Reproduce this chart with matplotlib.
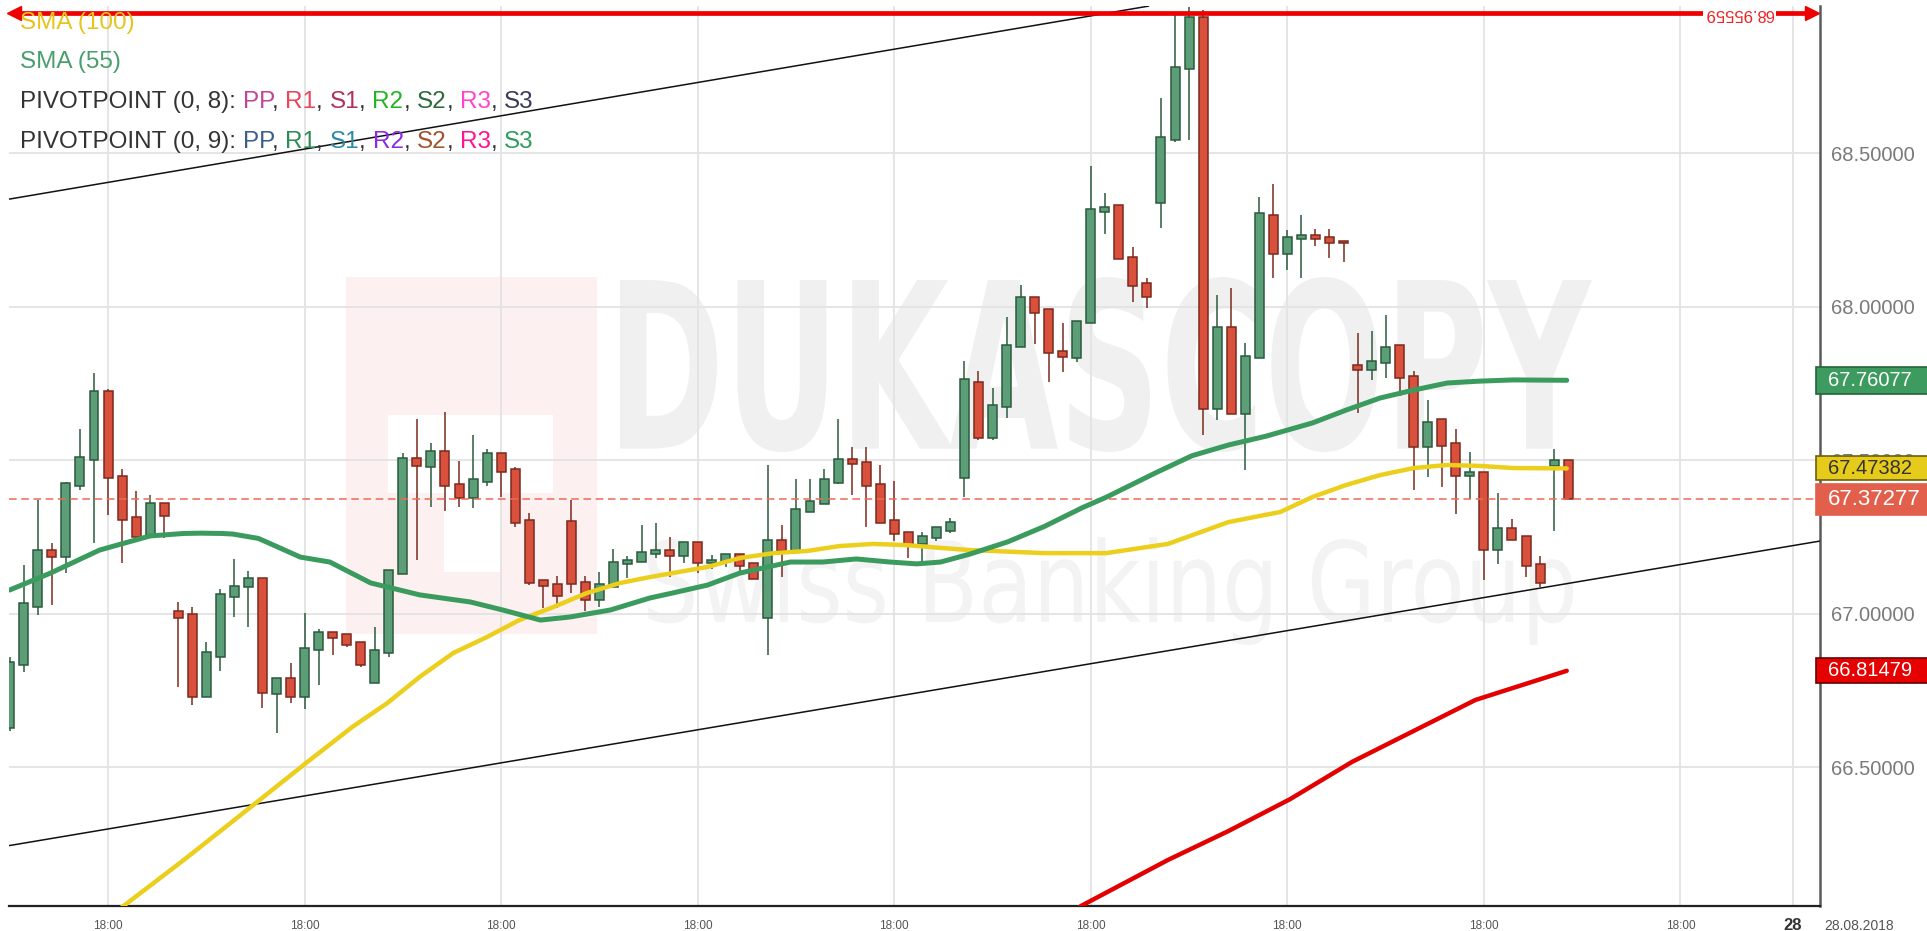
import numpy as np
import matplotlib.pyplot as plt
from matplotlib.transforms import Affine2D, blended_transform_factory
from matplotlib.textpath import TextPath
from matplotlib.patches import PathPatch, Rectangle
from matplotlib.font_manager import FontProperties

FONT = 'Liberation Sans'
plt.rcParams['font.family'] = [FONT, 'DejaVu Sans']

# candles (OHLC), one per bar
opens = [66.630, 66.834, 67.024, 67.208, 67.187, 67.415, 67.501, 67.726, 67.450, 67.314,
         67.257, 67.360, 67.008, 67.000, 66.731, 66.861, 67.056, 67.089, 67.118, 66.738,
         66.790, 66.731, 66.881, 66.940, 66.934, 66.908, 66.776, 66.874, 67.130, 67.509,
         67.480, 67.529, 67.423, 67.377, 67.429, 67.523, 67.471, 67.306, 67.111, 67.098,
         67.301, 67.103, 67.046, 67.089, 67.163, 67.168, 67.195, 67.208, 67.190, 67.235,
         67.167, 67.168, 67.196, 67.165, 66.986, 67.241, 67.206, 67.331, 67.357, 67.427,
         67.503, 67.496, 67.423, 67.306, 67.268, 67.228, 67.246, 67.271, 67.442, 67.756,
         67.572, 67.673, 67.868, 68.033, 67.993, 67.856, 67.834, 67.946, 68.310, 68.332,
         68.163, 68.079, 68.337, 68.543, 68.773, 68.945, 67.666, 67.933, 67.651, 67.834,
         68.299, 68.172, 68.220, 68.234, 68.226, 68.214, 67.810, 67.794, 67.816, 67.876,
         67.776, 67.542, 67.634, 67.556, 67.449, 67.463, 67.208, 67.279, 67.254, 67.163,
         67.483, 67.501]
highs = [66.860, 67.160, 67.371, 67.230, 67.430, 67.602, 67.786, 67.731, 67.472, 67.400,
         67.387, 67.360, 67.040, 67.022, 66.910, 67.080, 67.178, 67.140, 67.118, 66.790,
         66.839, 67.002, 66.950, 66.940, 66.934, 66.908, 66.957, 67.143, 67.523, 67.635,
         67.558, 67.656, 67.498, 67.583, 67.536, 67.523, 67.480, 67.328, 67.111, 67.125,
         67.371, 67.125, 67.138, 67.211, 67.190, 67.290, 67.295, 67.250, 67.235, 67.235,
         67.192, 67.196, 67.196, 67.165, 67.485, 67.290, 67.439, 67.439, 67.471, 67.635,
         67.543, 67.543, 67.485, 67.434, 67.268, 67.268, 67.282, 67.311, 67.825, 67.792,
         67.735, 67.968, 68.071, 68.033, 67.993, 67.948, 67.955, 68.459, 68.372, 68.332,
         68.196, 68.093, 68.679, 68.950, 68.975, 68.965, 68.038, 68.060, 67.883, 68.359,
         68.399, 68.250, 68.299, 68.252, 68.252, 68.214, 67.916, 67.922, 67.973, 67.876,
         67.791, 67.695, 67.634, 67.601, 67.528, 67.463, 67.393, 67.308, 67.254, 67.189,
         67.536, 67.501]
lows = [66.620, 66.812, 66.997, 67.029, 67.132, 67.404, 67.232, 67.322, 67.167, 67.244,
        67.257, 67.246, 66.763, 66.704, 66.731, 66.815, 66.991, 66.959, 66.693, 66.611,
        66.711, 66.690, 66.769, 66.866, 66.891, 66.826, 66.776, 66.861, 67.130, 67.174,
        67.349, 67.336, 67.349, 67.344, 67.415, 67.382, 67.284, 67.094, 67.018, 67.018,
        67.067, 67.008, 67.024, 67.089, 67.116, 67.168, 67.181, 67.121, 67.167, 67.134,
        67.146, 67.154, 67.134, 67.114, 66.866, 67.121, 67.206, 67.331, 67.357, 67.422,
        67.387, 67.284, 67.297, 67.238, 67.181, 67.170, 67.238, 67.262, 67.382, 67.566,
        67.566, 67.637, 67.868, 67.879, 67.756, 67.789, 67.821, 67.946, 68.237, 68.155,
        68.015, 67.995, 68.256, 68.538, 68.543, 67.583, 67.631, 67.651, 67.469, 67.834,
        68.095, 68.120, 68.095, 68.198, 68.160, 68.145, 67.655, 67.762, 67.767, 67.708,
        67.402, 67.447, 67.414, 67.324, 67.373, 67.111, 67.163, 67.241, 67.121, 67.087,
        67.271, 67.371]
closes = [66.845, 67.035, 67.208, 67.187, 67.425, 67.510, 67.726, 67.442, 67.305, 67.252,
          67.360, 67.319, 66.986, 66.731, 66.876, 67.065, 67.091, 67.118, 66.744, 66.790,
          66.731, 66.890, 66.942, 66.921, 66.899, 66.834, 66.883, 67.143, 67.509, 67.482,
          67.529, 67.415, 67.377, 67.438, 67.523, 67.463, 67.297, 67.102, 67.091, 67.059,
          67.098, 67.046, 67.098, 67.170, 67.176, 67.203, 67.208, 67.190, 67.235, 67.167,
          67.176, 67.196, 67.156, 67.114, 67.241, 67.206, 67.341, 67.368, 67.438, 67.503,
          67.488, 67.417, 67.297, 67.259, 67.224, 67.255, 67.282, 67.300, 67.765, 67.572,
          67.680, 67.876, 68.033, 67.979, 67.849, 67.835, 67.955, 68.318, 68.324, 68.155,
          68.069, 68.031, 68.554, 68.782, 68.945, 67.666, 67.933, 67.651, 67.841, 68.304,
          68.172, 68.226, 68.234, 68.220, 68.207, 68.207, 67.794, 67.824, 67.868, 67.769,
          67.542, 67.626, 67.548, 67.449, 67.463, 67.208, 67.279, 67.241, 67.156, 67.100,
          67.501, 67.37277]

# indicator lines (bar index, price)
sma55_x = [0.0, 2.9, 6.4, 10.0, 12.4, 13.6, 15.1, 15.9, 17.7, 18.3, 20.7, 22.8, 25.7, 29.2,
           32.8, 35.1, 37.8, 39.9, 42.8, 45.6, 47.2, 49.7, 52.0, 55.6, 57.9, 60.3, 62.7,
           64.6, 66.3, 68.4, 71.1, 73.7, 76.4, 78.1, 81.6, 84.2, 86.8, 89.5, 90.8, 92.8,
           95.2, 97.6, 100.0, 102.4, 104.7, 107.1, 110.9]
sma55_y = [67.078, 67.133, 67.208, 67.254, 67.262, 67.263, 67.262, 67.260, 67.246, 67.234,
           67.185, 67.169, 67.101, 67.062, 67.039, 67.013, 66.980, 66.990, 67.013, 67.052,
           67.068, 67.094, 67.133, 67.169, 67.169, 67.179, 67.169, 67.163, 67.169, 67.195,
           67.235, 67.285, 67.346, 67.380, 67.459, 67.515, 67.550, 67.579, 67.596, 67.622,
           67.664, 67.703, 67.729, 67.752, 67.758, 67.762, 67.76077]
sma100_x = [7.0, 8.1, 12.4, 16.8, 21.2, 24.4, 26.9, 29.2, 31.6, 34.0, 36.3, 38.7, 41.1, 43.5,
            45.6, 47.2, 49.7, 52.0, 54.4, 56.8, 59.1, 61.5, 63.9, 66.3, 68.4, 73.7, 78.1,
            82.5, 86.8, 90.5, 92.8, 95.2, 97.6, 100.0, 102.4, 104.7, 107.1, 110.9]
sma100_y = [66.010, 66.049, 66.199, 66.358, 66.518, 66.632, 66.710, 66.795, 66.873, 66.925,
            66.980, 67.022, 67.068, 67.101, 67.120, 67.133, 67.153, 67.182, 67.198, 67.205,
            67.221, 67.228, 67.224, 67.215, 67.208, 67.198, 67.198, 67.228, 67.299, 67.332,
            67.381, 67.420, 67.452, 67.475, 67.485, 67.482, 67.475, 67.47382]
sma200_x = [75.5, 76.3, 82.5, 86.8, 91.2, 95.6, 100.0, 104.4, 110.9]
sma200_y = [66.020, 66.049, 66.199, 66.293, 66.397, 66.518, 66.619, 66.720, 66.81479]

chan_up_x, chan_up_y = [0.0, 81.1], [68.351, 68.979]
chan_lo_x, chan_lo_y = [0.0, 128.9], [66.246, 67.237]

last_price = 67.37277
high_line = 68.95559
yticks = [66.5, 67.0, 67.5, 68.0, 68.5]
xgrid = [7, 21, 35, 49, 63, 77, 91, 105, 119, 127]
xlabels = ['18:00'] * 9

W, H = 1927, 931
fig = plt.figure(figsize=(W / 100, H / 100), dpi=100)
ax = fig.add_axes([9 / W, 25 / H, (1820 - 9) / W, (906 - 6) / H])
ax.set_xlim(-0.054, 128.94)
ax.set_ylim(66.049, 68.9795)
ax.set_axisbelow(True)


def fit_text(s, x0, y0, x1, y1, color, weight='bold'):
    # text stretched into a pixel box (y measured from top)
    tp = TextPath((0, 0), s, size=100, prop=FontProperties(family='DejaVu Sans', weight=weight))
    bb = tp.get_extents()
    tr = Affine2D().translate(-bb.x0, -bb.y0).scale((x1 - x0) / bb.width / W, (y1 - y0) / bb.height / H)
    tr = tr.translate(x0 / W, 1 - y1 / H)
    ax.add_patch(PathPatch(tp, transform=tr + fig.transFigure, facecolor=color, edgecolor='none', zorder=0))


def px_rect(x0, y0, x1, y1, color):
    ax.add_patch(Rectangle((x0 / W, 1 - y1 / H), (x1 - x0) / W, (y1 - y0) / H,
                           transform=fig.transFigure, facecolor=color, edgecolor='none', zorder=0))


# watermark
px_rect(346, 277, 597, 634, '#fdf0f0')
px_rect(388, 415, 553, 493, 'white')
px_rect(444, 415, 500, 572, 'white')
fit_text('DUKASCOPY', 620, 277, 1592, 452, '#f0f0f0')
fit_text('Swiss Banking Group', 648, 537, 1573, 645, '#f3f3f3', weight='normal')

# grid / axes
ax.set_yticks(yticks)
ax.set_yticklabels([f'{v:.5f}' for v in yticks])
ax.yaxis.tick_right()
ax.tick_params(axis='y', length=0, pad=8, labelsize=14.5, labelcolor='#7a7a7a')
ax.set_xticks(xgrid)
ax.set_xticklabels([])
ax.tick_params(axis='x', length=0)
ax.grid(True, color='#e3e3e3', lw=1.3)
for s in ['top', 'left']:
    ax.spines[s].set_visible(False)
ax.spines['right'].set_color('#5a5a5a')
ax.spines['right'].set_linewidth(1.8)
ax.spines['bottom'].set_color('#222222')
ax.spines['bottom'].set_linewidth(1.6)

# candles
o, h, l, c = map(np.array, (opens, highs, lows, closes))
idx = np.arange(len(o))
up = c >= o
body_lo = np.minimum(o, c)
body_h = np.maximum(np.abs(c - o), 0.006)
for mask, fill, edge in [(up, '#5c9e77', '#2b5a3c'), (~up, '#d9513c', '#7a2a1e')]:
    ax.vlines(idx[mask], l[mask], h[mask], color=edge, lw=1.1, zorder=2)
    ax.bar(idx[mask], body_h[mask], bottom=body_lo[mask], width=0.64,
           color=fill, edgecolor=edge, linewidth=1.1, zorder=3)

# trend channel
ax.plot(chan_up_x, chan_up_y, color='#111111', lw=1.1, zorder=4)
ax.plot(chan_lo_x, chan_lo_y, color='#111111', lw=1.1, zorder=4)

# moving averages
ax.plot(sma200_x, sma200_y, color='#e30000', lw=3.2, solid_capstyle='round',
        solid_joinstyle='round', zorder=5)
ax.plot(sma100_x, sma100_y, color='#ebcf1c', lw=3.2, solid_capstyle='round',
        solid_joinstyle='round', zorder=5)
ax.plot(sma55_x, sma55_y, color='#3b9b5f', lw=3.6, solid_capstyle='round',
        solid_joinstyle='round', zorder=5)

ax.axhline(last_price, color='#ee6a55', lw=1.1, ls=(0, (5, 3)), zorder=4)

# high line with arrows
ax.plot([0.2, 128.3], [high_line, high_line], color='#ee0000', lw=3.4, zorder=6, clip_on=False)
ax.plot([0.3], [high_line], marker='<', color='#ee0000', markersize=10, zorder=6, clip_on=False)
ax.plot([128.4], [high_line], marker='>', color='#ee0000', markersize=10, zorder=6, clip_on=False)
ax.text(123.2, high_line, f'{high_line:.5f}', rotation=180, color='#ee2222', fontsize=12,
        ha='center', va='center', zorder=7,
        bbox=dict(facecolor='white', edgecolor='none', pad=1.5))

# right-hand value boxes
bt = blended_transform_factory(fig.transFigure, ax.transData)
ppx = (68.9795 - 66.049) / 900
boxes = [(67.76077, '#3d9b5f', '#23643a', 'white', 14.5, 27),
         (67.47382, '#e6cb1a', '#6b5f10', '#333333', 14.5, 24),
         (67.37277, '#e2604b', '#e2604b', 'white', 16, 31),
         (66.81479, '#e60000', '#660000', 'white', 14.5, 25)]
for val, fc, ec, tc, fs, hp in boxes:
    ax.add_patch(Rectangle((1816 / W, val - hp / 2 * ppx), 120 / W, hp * ppx, transform=bt,
                           facecolor=fc, edgecolor=ec, lw=1.2, clip_on=False, zorder=10))
    ax.text(1828 / W, val, f'{val:.5f}', transform=bt, color=tc, fontsize=fs,
            va='center', ha='left', clip_on=False, zorder=11)

# x labels
xt = blended_transform_factory(ax.transData, fig.transFigure)
for xv, lab in zip(xgrid[:-1], xlabels):
    ax.text(xv, 1 - 926 / H, lab, transform=xt, fontsize=8.5, color='#555555',
            ha='center', va='center', clip_on=False)
ax.text(xgrid[-1], 1 - 925 / H, '28', transform=xt, fontsize=12, fontweight='bold',
        color='#333333', ha='center', va='center', clip_on=False)
fig.text(1824 / W, 1 - 926 / H, '28.08.2018', fontsize=10, color='#555555', ha='left', va='center')

# legend lines
renderer = fig.canvas.get_renderer()
LEG = 17.5


def text_w(s):
    t = fig.text(0, 0, s, fontsize=LEG)
    w = t.get_window_extent(renderer).width
    t.remove()
    return w


def legend_line(y_px, parts):
    prefix = ''
    for s, col in parts:
        x = 20 + text_w(prefix + s) - text_w(s.lstrip())
        fig.text(x / W, 1 - y_px / H, s.lstrip(), color=col, fontsize=LEG, ha='left', va='center')
        prefix += s


dark = '#333333'
legend_line(23, [('SMA (100)', '#e6c41e')])
legend_line(62, [('SMA (55)', '#4a9e6e')])
piv8 = [('PP', '#c0449a'), ('R1', '#e8465a'), ('S1', '#b03060'), ('R2', '#22b422'),
        ('S2', '#2e6b3a'), ('R3', '#ff44cc'), ('S3', '#3a3a5a')]
piv9 = [('PP', '#3a5f8a'), ('R1', '#2e8b57'), ('S1', '#2a8aa8'), ('R2', '#8a2be2'),
        ('S2', '#a0522d'), ('R3', '#ff1493'), ('S3', '#2e9e5e')]
for y_px, name, piv in [(102, 'PIVOTPOINT (0, 8):', piv8), (142, 'PIVOTPOINT (0, 9):', piv9)]:
    parts = [(name, dark)]
    for k, (s, col) in enumerate(piv):
        parts.append((' ' + s, col))
        if k < len(piv) - 1:
            parts.append((',', dark))
    legend_line(y_px, parts)

fig.savefig('out.png', dpi=100)
